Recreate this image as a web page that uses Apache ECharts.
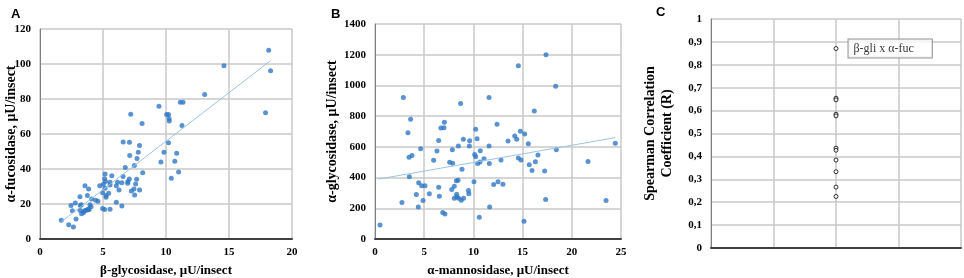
<!DOCTYPE html>
<html>
<head>
<meta charset="utf-8">
<script src="https://cdn.jsdelivr.net/npm/echarts@6/dist/echarts.min.js"></script>
<style>
  html, body { margin: 0; padding: 0; background: #fff; }
  #chartIds { width: 964px; height: 278px; }
</style>
</head>
<body>
<div id="chartIds"></div>
<script>
  // panel A: beta-glycosidase vs alpha-fucosidase
  var aX = [18.15, 18.3, 14.6, 17.9, 13.07, 11.14, 11.35, 9.44, 7.2, 10.05, 10.2, 10.24, 10.26, 8.1, 11.27, 10.2, 6.6, 7.1, 7.9, 7.8, 9.84, 10.85, 7.12, 7.7, 9.6, 10.7, 7.49, 6.77, 11.0, 8.15, 10.42, 5.16, 5.7, 5.13, 6.59, 6.16, 5.56, 5.56, 5.2, 5.03, 4.74, 6.06, 6.5, 6.96, 6.98, 7.09, 7.67, 7.59, 7.46, 7.25, 7.51, 7.9, 5.16, 6.27, 4.97, 5.45, 5.24, 5.24, 3.57, 3.86, 3.17, 3.76, 4.1, 4.42, 4.6, 2.46, 2.8, 3.28, 3.2, 3.97, 4.05, 2.57, 3.17, 3.5, 3.63, 3.76, 3.9, 3.3, 3.45, 3.84, 4.97, 5.13, 5.56, 6.06, 6.5, 2.86, 1.69, 2.28, 2.65]
  var aY = [107.8, 96.1, 99, 72.1, 82.6, 78.2, 78.2, 75.9, 71.3, 71.2, 71.2, 68.9, 67.5, 66, 64.9, 55, 55.5, 55.3, 53.4, 49.6, 49.6, 49, 47.7, 46, 44, 44.4, 42, 40.8, 38.3, 37.8, 34.7, 37.2, 36.2, 34.5, 35.7, 32.4, 32.4, 30.9, 32.8, 31.3, 30.5, 30.5, 32.2, 31.9, 32.8, 34.3, 34.1, 31.5, 28.6, 27.5, 25.2, 28, 29, 28, 26.5, 26.1, 24.8, 23.8, 30.5, 28.6, 24.2, 24.8, 22.9, 22.1, 21.6, 19.1, 20.6, 19.6, 19.1, 19.6, 18.5, 16.2, 16.4, 16.0, 16.4, 16.6, 16.8, 14.5, 15.1, 17.2, 17.4, 16.8, 17, 21, 18.9, 11.4, 10.7, 8.2, 6.9]
  var fitAX = [1.7, 18.3]
  var fitAY = [9.9, 101.9]

  // panel B: alpha-mannosidase vs alpha-glycosidase
  var bX = [0.51, 2.74, 2.88, 3.35, 3.62, 3.46, 3.76, 3.49, 4.64, 4.44, 4.2, 4.4, 4.88, 4.74, 5.08, 5.52, 5.96, 6.3, 6.47, 6.47, 6.54, 6.7, 7.01, 7.05, 6.88, 7.11, 7.59, 7.89, 7.86, 7.8, 8.06, 8.27, 8.44, 8.47, 8.06, 8.3, 8.33, 8.5, 8.77, 9.0, 8.7, 8.84, 8.98, 9.5, 9.54, 9.62, 9.59, 10.06, 10.13, 10.23, 10.23, 10.37, 10.43, 10.67, 10.7, 10.6, 11.08, 11.59, 11.59, 11.62, 11.65, 12.06, 12.4, 12.5, 12.8, 13.0, 13.52, 14.2, 14.4, 14.57, 14.57, 14.78, 14.84, 15.21, 15.14, 15.58, 15.68, 15.96, 16.19, 16.3, 16.56, 17.24, 17.38, 17.34, 18.36, 18.43, 21.65, 23.48, 24.42]
  var bY = [91, 237, 921, 692, 779, 533, 544, 405, 588, 366, 290, 209, 250, 346, 346, 294, 512, 573, 642, 337, 279, 723, 725, 760, 172, 163, 499, 494, 581, 322, 344, 379, 383, 605, 266, 292, 274, 266, 253, 266, 882, 455, 649, 316, 294, 640, 605, 372, 551, 536, 714, 653, 492, 501, 575, 142, 523, 921, 605, 492, 209, 355, 747, 372, 514, 357, 638, 671, 649, 1128, 527, 701, 514, 684, 115, 621, 483, 446, 834, 503, 547, 442, 1200, 257, 995, 581, 505, 250, 623]
  var fitBX = [0.34, 24.42]
  var fitBY = [390, 660]

  // panel C: Spearman R values (all in the same column)
  var cPos = 2
  var cR = [0.871, 0.654, 0.647, 0.584, 0.577, 0.436, 0.427, 0.384, 0.333, 0.266, 0.225]
  var cLabel = 'β-gli x α-fuc'

  function zip(xs, ys) {
    var out = []
    xs.forEach(function (x, i) { out.push([x, ys[i]]) })
    return out
  }

  var serif = 'Liberation Serif'
  var tickStyle = { color: '#000', fontFamily: serif, fontWeight: 'bold', fontSize: 11 }
  var nameStyle = { color: '#000', fontFamily: serif, fontWeight: 'bold', fontSize: 14, lineHeight: 17 }
  var blue = '#2f78c6'
  var fitColor = '#9dc3e6'

  function gridLine() {
    return { show: true, lineStyle: { color: '#c9c9c9', width: 1.5 } }
  }

  function xAx(idx, max, interval, name) {
    return {
      gridIndex: idx, type: 'value', min: 0, max: max, interval: interval,
      name: name, nameLocation: 'middle', nameGap: 23, nameMoveOverlap: false,
      nameTextStyle: Object.assign({}, nameStyle, { fontSize: 13 }),
      axisLine: { show: true, onZero: false, lineStyle: { color: '#404040', width: 2 } },
      axisTick: { show: false },
      axisLabel: Object.assign({ show: name !== '', margin: 8, formatter: function (v) { return String(v) } }, tickStyle),
      splitLine: gridLine()
    }
  }

  function yAx(idx, max, interval, name, gap, fmt) {
    return {
      gridIndex: idx, type: 'value', min: 0, max: max, interval: interval,
      name: name, nameLocation: 'middle', nameGap: gap, nameMoveOverlap: false, nameTextStyle: nameStyle,
      axisLine: { show: true, onZero: false, lineStyle: { color: '#7f7f7f', width: 1 } },
      axisTick: { show: false },
      axisLabel: Object.assign({ margin: 9, formatter: fmt || function (v) { return String(v) } }, tickStyle),
      splitLine: gridLine()
    }
  }

  var cData = cR.map(function (r, i) {
    var item = { value: [cPos, r] }
    if (i === 0) {
      item.label = {
        show: true, position: 'right', distance: 10,
        formatter: cLabel,
        fontFamily: serif, fontSize: 12, color: '#000',
        backgroundColor: '#fff', borderColor: '#808080', borderWidth: 1,
        padding: [3, 18, 3, 5]
      }
    }
    return item
  })

  var chartDom = document.getElementById('chartIds')
  var myChart = echarts.init(chartDom)
  myChart.setOption({
    animation: false,
    title: [
      { text: 'A', left: 6, top: 3, textStyle: { fontFamily: 'Liberation Sans', fontWeight: 'bold', fontSize: 13, color: '#000' } },
      { text: 'B', left: 326, top: 3, textStyle: { fontFamily: 'Liberation Sans', fontWeight: 'bold', fontSize: 13, color: '#000' } },
      { text: 'C', left: 651, top: 1, textStyle: { fontFamily: 'Liberation Sans', fontWeight: 'bold', fontSize: 13, color: '#000' } }
    ],
    grid: [
      { left: 40, top: 29, width: 252, height: 210, outerBoundsMode: 'none', containLabel: false },
      { left: 375, top: 24, width: 246, height: 215, outerBoundsMode: 'none', containLabel: false },
      { left: 711, top: 19, width: 250, height: 229, outerBoundsMode: 'none', containLabel: false }
    ],
    xAxis: [
      xAx(0, 20, 5, 'β-glycosidase, μU/insect'),
      xAx(1, 25, 5, 'α-mannosidase, μU/insect'),
      xAx(2, 4, 1, '')
    ],
    yAxis: [
      yAx(0, 120, 20, 'α-fucosidase, μU/insect', 20),
      yAx(1, 1400, 200, 'α-glycosidase, μU/insect', 34),
      yAx(2, 1, 0.1, 'Spearman Correlation\nCoefficient (R)', 35, function (v) {
        return String(Math.round(v * 10) / 10).replace('.', ',')
      })
    ],
    series: [
      {
        type: 'scatter', xAxisIndex: 0, yAxisIndex: 0, data: zip(aX, aY),
        symbol: 'circle', symbolSize: 5, itemStyle: { color: blue }
      },
      {
        type: 'line', xAxisIndex: 0, yAxisIndex: 0, data: zip(fitAX, fitAY),
        symbol: 'none', lineStyle: { color: fitColor, width: 1 }
      },
      {
        type: 'scatter', xAxisIndex: 1, yAxisIndex: 1, data: zip(bX, bY),
        symbol: 'circle', symbolSize: 5, itemStyle: { color: blue }
      },
      {
        type: 'line', xAxisIndex: 1, yAxisIndex: 1, data: zip(fitBX, fitBY),
        symbol: 'none', lineStyle: { color: fitColor, width: 1 }
      },
      {
        type: 'scatter', xAxisIndex: 2, yAxisIndex: 2, data: cData,
        symbol: 'circle', symbolSize: 4,
        itemStyle: { color: '#fff', borderColor: '#000', borderWidth: 1 }
      }
    ]
  })
</script>
</body>
</html>
